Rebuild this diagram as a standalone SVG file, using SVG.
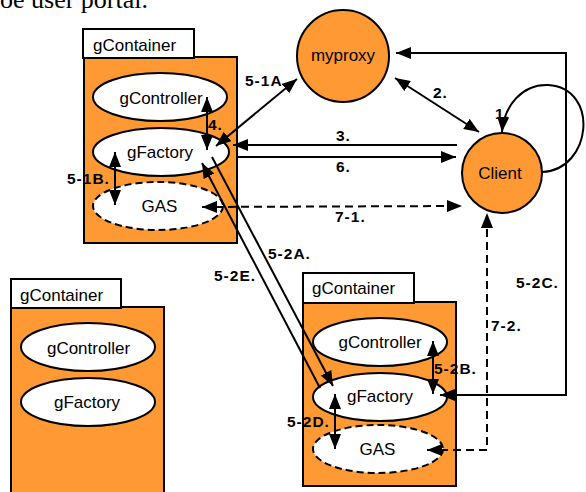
<svg xmlns="http://www.w3.org/2000/svg" width="586" height="492" viewBox="0 0 586 492">
  <style>
    .box{fill:#FF9933;stroke:#000;stroke-width:2}
    .tab{fill:#fff;stroke:#000;stroke-width:2}
    .comp{fill:#fff;stroke:#000;stroke-width:2}
    .gas{fill:#fff;stroke:#000;stroke-width:2;stroke-dasharray:7 4}
    .hub{fill:#FF9933;stroke:#000;stroke-width:2}
    .t{font-family:"Liberation Sans",Arial,sans-serif;font-size:17px;fill:#000}
    .c{text-anchor:middle}
    .edge{fill:none;stroke:#000;stroke-width:2}
    .dash{stroke-dasharray:8 5}
    .one{marker-end:url(#arrow)}
    .two{marker-start:url(#arrow);marker-end:url(#arrow)}
    .lbl{font-family:"Liberation Sans",Arial,sans-serif;font-weight:bold;font-size:15.5px;letter-spacing:1px;fill:#000}
  </style>
  <defs>
    <marker id="arrow" viewBox="0 0 15 12" refX="15" refY="6" markerWidth="15" markerHeight="12" markerUnits="userSpaceOnUse" orient="auto-start-reverse">
      <path d="M0,0 L15,6 L0,12 z" fill="#000"/>
    </marker>
  </defs>

  <!-- running text line above the figure -->
  <text x="0" y="8" font-family="'Liberation Serif','Times New Roman',serif" font-size="26" fill="#000">oe user portal.</text>

  <!-- container A (top left) -->
  <g id="container-a">
    <rect class="box" x="84" y="57" width="153" height="186"/>
    <rect class="tab" x="83" y="29" width="111" height="29"/>
    <text class="t" x="93" y="51">gContainer</text>
    <g id="a-controller">
      <ellipse class="comp" cx="160" cy="97" rx="67" ry="24"/>
      <text class="t c" x="161" y="104">gController</text>
    </g>
    <g id="a-factory">
      <ellipse class="comp" cx="161" cy="152" rx="68" ry="24"/>
      <text class="t c" x="160" y="158">gFactory</text>
    </g>
    <g id="a-gas">
      <ellipse class="gas" cx="158" cy="206" rx="65" ry="24"/>
      <text class="t c" x="159.5" y="212">GAS</text>
    </g>
  </g>

  <!-- container B (bottom left) -->
  <g id="container-b">
    <rect class="box" x="11" y="307" width="153" height="200"/>
    <rect class="tab" x="11" y="279" width="110" height="29"/>
    <text class="t" x="20" y="301">gContainer</text>
    <g id="b-controller">
      <ellipse class="comp" cx="88" cy="347" rx="67" ry="24"/>
      <text class="t c" x="88.5" y="354">gController</text>
    </g>
    <g id="b-factory">
      <ellipse class="comp" cx="88" cy="402" rx="67" ry="24"/>
      <text class="t c" x="87" y="408">gFactory</text>
    </g>
  </g>

  <!-- container C (bottom right) -->
  <g id="container-c">
    <rect class="box" x="303" y="302" width="153" height="184"/>
    <rect class="tab" x="303" y="273" width="111" height="30"/>
    <text class="t" x="312" y="294">gContainer</text>
    <g id="c-controller">
      <ellipse class="comp" cx="380" cy="342" rx="67" ry="24"/>
      <text class="t c" x="380" y="348">gController</text>
    </g>
    <g id="c-factory">
      <ellipse class="comp" cx="380" cy="397" rx="67" ry="24"/>
      <text class="t c" x="380" y="402">gFactory</text>
    </g>
    <g id="c-gas">
      <ellipse class="gas" cx="378" cy="449" rx="65" ry="24"/>
      <text class="t c" x="377.5" y="455">GAS</text>
    </g>
  </g>

  <g id="myproxy">
    <circle class="hub" cx="343" cy="56" r="46"/>
    <text class="t c" x="343" y="61">myproxy</text>
  </g>

  <g id="client">
    <circle class="hub" cx="502" cy="173" r="40"/>
    <text class="t c" x="500" y="179" font-size="18">Client</text>
  </g>

  <!-- connectors -->
  <g id="connectors">
    <path class="edge one" d="M542,172 C592,170 600,88 548,85 C522,84 504,106 502,132"/>
    <path class="edge two" d="M395,78 L479,132"/>
    <path class="edge one" d="M457,145 L233,145"/>
    <path class="edge one" d="M237,157 L456,157"/>
    <path class="edge dash two" d="M202,207 L462,206"/>
    <path class="edge two" d="M216,146 L297,79"/>
    <path class="edge two" d="M207,97 L207,150"/>
    <path class="edge two" d="M115,152 L115,205"/>
    <path class="edge one" d="M212,157 L333,386"/>
    <path class="edge one" d="M320,388 L202,163"/>
    <path class="edge two" d="M433,341 L433,394"/>
    <path class="edge two" d="M335,394 L335,449"/>
    <path class="edge two" d="M396,53 L566,53 L566,395 L440,395"/>
    <path class="edge dash two" d="M427,450 L487,450 L487,213"/>
  </g>

  <g id="labels">
    <text class="lbl" x="495" y="119">1.</text>
    <text class="lbl" x="433" y="98">2.</text>
    <text class="lbl" x="336" y="141">3.</text>
    <text class="lbl" x="208" y="130">4.</text>
    <text class="lbl" x="336" y="172">6.</text>
    <text class="lbl" x="335" y="222">7-1.</text>
    <text class="lbl" x="245" y="86">5-1A.</text>
    <text class="lbl" x="67" y="184">5-1B.</text>
    <text class="lbl" x="268" y="259">5-2A.</text>
    <text class="lbl" x="214" y="281">5-2E.</text>
    <text class="lbl" x="516" y="288">5-2C.</text>
    <text class="lbl" x="491" y="331">7-2.</text>
    <text class="lbl" x="434" y="374">5-2B.</text>
    <text class="lbl" x="287" y="427">5-2D.</text>
  </g>
</svg>
